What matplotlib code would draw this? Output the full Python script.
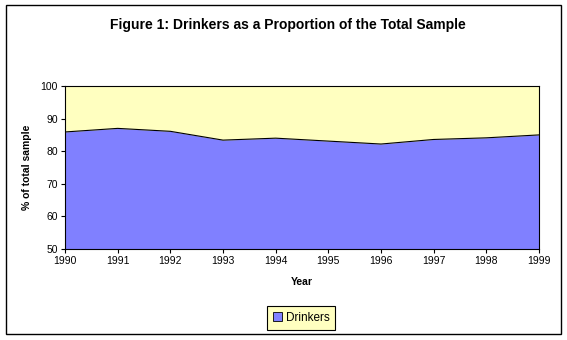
import matplotlib
matplotlib.use('Agg')
import matplotlib.pyplot as plt
from matplotlib.patches import Rectangle

plt.rcParams['font.family'] = ['Liberation Sans', 'DejaVu Sans']

# data
years = [1990, 1991, 1992, 1993, 1994, 1995, 1996, 1997, 1998, 1999]
drinkers = [85.9, 87.0, 86.1, 83.4, 84.0, 83.1, 82.2, 83.6, 84.1, 85.0]
yticks = [50, 60, 70, 80, 90, 100]

fig = plt.figure(figsize=(5.67, 3.4), dpi=100)
ax = fig.add_axes([65/567, 1-249/340, (539-65)/567, (249-86)/340])

ax.set_facecolor('#FFFFC0')
ax.fill_between(years, 50, drinkers, color='#8080FF', linewidth=0, label='Drinkers')
ax.plot(years, drinkers, color='black', linewidth=0.8)

ax.set_xlim(1990, 1999)
ax.set_ylim(50, 100)
ax.set_xticks(years)
ax.set_yticks(yticks)
ax.tick_params(direction='out', length=3, width=0.8, labelsize=7.5, pad=2)
for s in ax.spines.values():
    s.set_linewidth(0.8)

ax.set_xlabel('Year', fontsize=7.5, fontweight='bold', labelpad=8)
ax.set_ylabel('% of total sample', fontsize=7.5, fontweight='bold', labelpad=6)

fig.text(288/567, 1-25/340, 'Figure 1: Drinkers as a Proportion of the Total Sample',
         ha='center', va='center', fontsize=10, fontweight='bold')

leg = fig.legend(loc='center', bbox_to_anchor=(301/567, 1-318/340), fontsize=8.5,
                 frameon=True, fancybox=False, handlelength=0.8, handleheight=0.8,
                 handletextpad=0.3, borderpad=0.5, borderaxespad=0)
leg.get_frame().set_facecolor('#FFFFC0')
leg.get_frame().set_edgecolor('black')
leg.get_frame().set_linewidth(0.8)
leg.get_frame().set_alpha(1)
for h in leg.legend_handles:
    h.set_edgecolor('black')
    h.set_linewidth(0.6)

fig.patches.append(Rectangle((6/567, 1-334/340), 555/567, 329/340, transform=fig.transFigure,
                             fill=False, edgecolor='black', linewidth=1))

fig.savefig('out.png', dpi=100)
